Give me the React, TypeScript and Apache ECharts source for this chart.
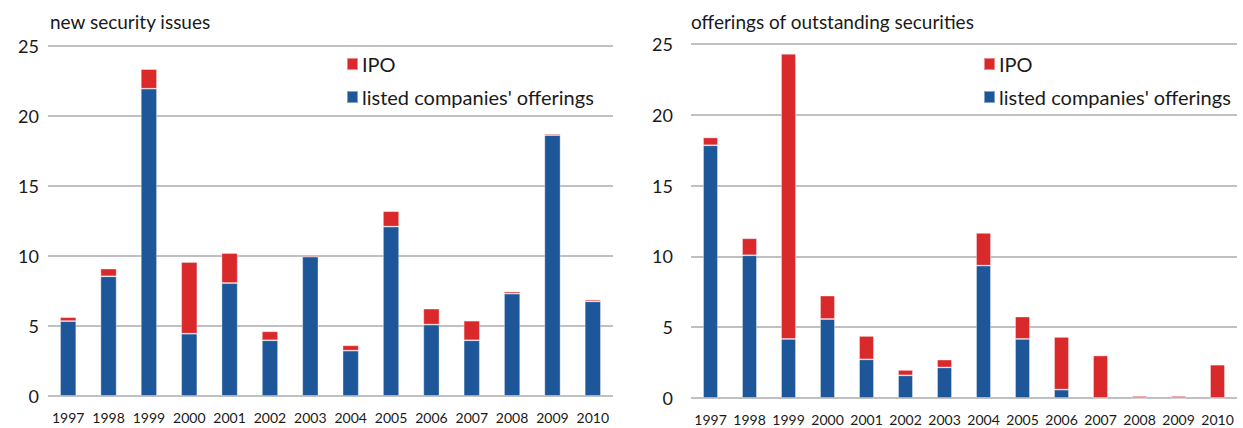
import React, { useEffect, useRef } from "react";
import * as echarts from "echarts";

const years = ["1997", "1998", "1999", "2000", "2001", "2002", "2003", "2004", "2005", "2006", "2007", "2008", "2009", "2010"];

// new security issues
const newListed = [5.35, 8.55, 21.95, 4.45, 8.07, 3.98, 9.95, 3.24, 12.1, 5.1, 3.98, 7.31, 18.64, 6.76];
const newIpo = [0.28, 0.55, 1.4, 5.12, 2.14, 0.64, 0.1, 0.38, 1.1, 1.14, 1.4, 0.14, 0.1, 0.12];

// offerings of outstanding securities
const outListed = [17.85, 10.08, 4.17, 5.58, 2.73, 1.6, 2.16, 9.35, 4.17, 0.59, 0, 0, 0, 0];
const outIpo = [0.55, 1.2, 20.14, 1.65, 1.65, 0.38, 0.55, 2.31, 1.58, 3.72, 3.0, 0.14, 0.14, 2.35];

const yTicks = [0, 5, 10, 15, 20, 25];

const titles = ["new security issues", "offerings of outstanding securities"];
const seriesNames = ["IPO", "listed companies' offerings"];

const BLUE = "#1d5799";
const RED = "#d9292b";
const GRID = "#c0c0c4";
const FONT = "Lato";

export default function App() {
  const ref = useRef<HTMLDivElement>(null);
  useEffect(() => {
    if (!ref.current) return;
    const chart = echarts.init(ref.current, null, { renderer: "svg" });
    const xAxisBase = (gridIndex: number) => ({
      type: "category" as const,
      gridIndex,
      data: years,
      axisLine: { show: false },
      axisTick: { show: false },
      axisLabel: { fontFamily: FONT, fontSize: 14, color: "#1a1a1a", margin: 14, interval: 0 },
    });
    const yAxisBase = (gridIndex: number, margin: number) => ({
      type: "value" as const,
      gridIndex,
      min: yTicks[0],
      max: yTicks[yTicks.length - 1],
      interval: 5,
      axisLine: { show: false },
      axisTick: { show: false },
      axisLabel: { fontFamily: FONT, fontSize: 18, color: "#1a1a1a", margin },
      splitLine: { lineStyle: { color: GRID, width: 2 } },
    });
    const bar = (name: string, data: number[], idx: number, stack: string, color: string, width: string) => ({
      type: "bar" as const,
      name,
      data,
      xAxisIndex: idx,
      yAxisIndex: idx,
      stack,
      barWidth: width,
      itemStyle: { color, borderColor: "rgba(255,255,255,0.45)", borderWidth: 0.8 },
    });
    const legendBase = (left: number) => ({
      left,
      top: 49,
      orient: "vertical" as const,
      icon: "rect",
      itemWidth: 11,
      itemHeight: 12,
      itemGap: 13,
      selectedMode: false,
      data: seriesNames,
      textStyle: { fontFamily: FONT, fontSize: 20, color: "#1a1a1a", padding: [0, 0, 0, -1] },
    });
    const titleStyle = { fontFamily: FONT, fontSize: 19, fontWeight: "normal" as const, color: "#1a1a1a" };
    chart.setOption({
      animation: false,
      backgroundColor: "#ffffff",
      title: [
        { text: titles[0], left: 45, top: 7, textStyle: titleStyle },
        { text: titles[1], left: 686, top: 7, textStyle: titleStyle },
      ],
      legend: [legendBase(341), legendBase(978)],
      grid: [
        { left: 48, right: 630, top: 46, bottom: 32 },
        { left: 691, right: 6, top: 44, bottom: 30 },
      ],
      xAxis: [xAxisBase(0), xAxisBase(1)],
      yAxis: [yAxisBase(0, 9), yAxisBase(1, 18)],
      series: [
        bar(seriesNames[1], newListed, 0, "a", BLUE, "40%"),
        bar(seriesNames[0], newIpo, 0, "a", RED, "40%"),
        bar(seriesNames[1], outListed, 1, "b", BLUE, "38%"),
        bar(seriesNames[0], outIpo, 1, "b", RED, "38%"),
      ],
    });
    return () => chart.dispose();
  }, []);
  return <div ref={ref} style={{ position: "absolute", left: 0, top: 0, width: 1243, height: 428 }} />;
}
